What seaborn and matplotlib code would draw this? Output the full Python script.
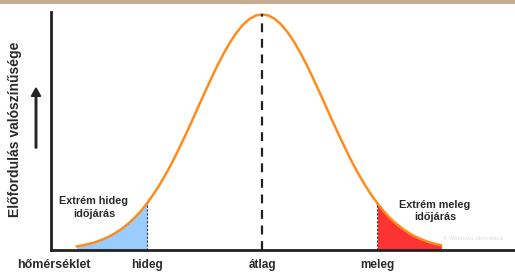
import matplotlib
matplotlib.use("Agg")
import matplotlib.pyplot as plt
import seaborn as sns
import pandas as pd

# bell curve (x in std-devs from the mean, height relative to peak)
x_pos = [-2.9, -2.8, -2.7, -2.6, -2.5, -2.4, -2.3, -2.2, -2.1, -2.0, -1.9, -1.8, -1.7, -1.6,
         -1.5, -1.4, -1.3, -1.2, -1.1, -1.0, -0.9, -0.8, -0.7, -0.6, -0.5, -0.4, -0.3, -0.2, -0.1,
         0.0, 0.1, 0.2, 0.3, 0.4, 0.5, 0.6, 0.7, 0.8, 0.9, 1.0, 1.1, 1.2, 1.3, 1.4,
         1.5, 1.6, 1.7, 1.8, 1.9, 2.0, 2.1, 2.2, 2.3, 2.4, 2.5, 2.6, 2.7, 2.8]
height = [0.015, 0.020, 0.026, 0.034, 0.044, 0.056, 0.071, 0.089, 0.110, 0.135, 0.164, 0.198, 0.236, 0.278,
          0.325, 0.375, 0.430, 0.487, 0.546, 0.607, 0.667, 0.726, 0.783, 0.835, 0.882, 0.923, 0.956, 0.980, 0.995,
          1.000, 0.995, 0.980, 0.956, 0.923, 0.882, 0.835, 0.783, 0.726, 0.667, 0.607, 0.546, 0.487, 0.430, 0.375,
          0.325, 0.278, 0.236, 0.198, 0.164, 0.135, 0.110, 0.089, 0.071, 0.056, 0.044, 0.034, 0.026, 0.020]

cold_limit = -1.8
mean_val = 0.0
warm_limit = 1.8
tick_pos = [cold_limit, mean_val, warm_limit]
tick_labels = ["hideg", "átlag", "meleg"]

df = pd.DataFrame({"x": x_pos, "y": height})

sns.set_style("white")
plt.rcParams["font.family"] = ["Liberation Sans", "DejaVu Sans"]
text_col = "#2a2a2a"

fig = plt.figure(figsize=(5.15, 2.77), dpi=100)
ax = fig.add_axes([51 / 515, 27 / 277, 1 - 51 / 515, 238 / 277])

cold = df[df.x <= cold_limit + 1e-9]
warm = df[df.x >= warm_limit - 1e-9]
ax.fill_between(cold.x, 0, cold.y, color="#99ccff", lw=0)
ax.fill_between(warm.x, 0, warm.y, color="#ff3333", lw=0)
sns.lineplot(data=df, x="x", y="y", ax=ax, color="#ff8c1a", lw=1.8)

peak = df.y.max()
ax.plot([mean_val, mean_val], [0, peak], color="#222222", lw=1.6, ls=(0, (4, 3)))
for lim in (cold_limit, warm_limit):
    h = df.loc[(df.x - lim).abs() < 1e-9, "y"].iloc[0]
    ax.plot([lim, lim], [0, h], color="#333333", lw=0.8, ls=(0, (2, 1.5)))

ax.set_xlim(-3.3, 3.95)
ax.set_ylim(0, 1.01)
ax.set_xticks([])
ax.set_yticks([])
ax.set_xlabel("")
ax.set_ylabel("")
for s in ("top", "right"):
    ax.spines[s].set_visible(False)
for s in ("left", "bottom"):
    ax.spines[s].set_color("#222222")
    ax.spines[s].set_linewidth(2)

for p, lab in zip(tick_pos, tick_labels):
    ax.text(p, -0.065, lab, ha="center", va="center", fontsize=8.5, fontweight="bold", color=text_col)
fig.text(54 / 515, 1 - 265 / 277, "hőmérséklet", ha="center", va="center",
         fontsize=9, fontweight="bold", color=text_col)

ax.text(-2.63, 0.18, "Extrém hideg\nidőjárás", ha="center", va="center", fontsize=7.8,
        fontweight="bold", color=text_col, linespacing=1.3)
ax.text(2.70, 0.165, "Extrém meleg\nidőjárás", ha="center", va="center", fontsize=7.8,
        fontweight="bold", color=text_col, linespacing=1.3)
ax.text(3.3, 0.05, "A Windows aktiválása", ha="center", va="center", fontsize=4.5, color="#dddddd")

fig.text(15 / 515, 1 - 129 / 277, "Előfordulás valószínűsége", rotation=90, ha="center", va="center",
         fontsize=10, fontweight="bold", color=text_col)
fig.patches.append(matplotlib.patches.FancyArrow(
    36 / 515, 1 - 148 / 277, 0, 60 / 277, width=0.003, head_width=0.018, head_length=0.03,
    transform=fig.transFigure, color="#222222", length_includes_head=True))

# tan strip along the top edge
fig.patches.append(matplotlib.patches.Rectangle(
    (0, 1 - 4 / 277), 1, 4 / 277, transform=fig.transFigure, color="#c4ad94", lw=0))

fig.savefig("out.png", dpi=100)
